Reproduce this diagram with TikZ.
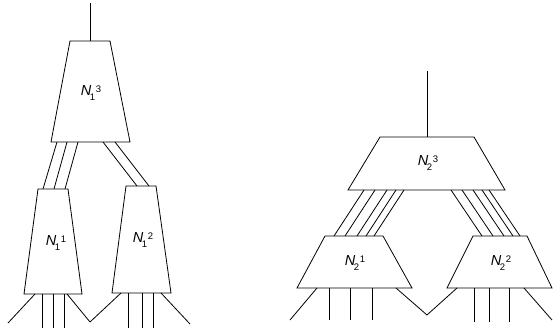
\documentclass[tikz,border=0pt]{standalone}
\usepackage{fontspec}
\setmainfont{Liberation Sans}
\newcommand\nlab[2]{{\fontsize{14.5}{15}\selectfont\itshape N}\kern-1.6pt\raisebox{-4.5pt}{\fontsize{9.5}{10}\selectfont #1}\kern0.8pt\raisebox{3.8pt}{\fontsize{9.5}{10}\selectfont #2}}
\tikzset{
  wire/.style={draw=black, line width=0.8pt},
  box/.style={draw=black, line width=0.8pt, fill=white, line join=miter},
  lab/.style={inner sep=0pt, anchor=center}
}
\begin{document}
\begin{tikzpicture}[x=1pt,y=-1pt]
\useasboundingbox (0,0) rectangle (553,328);
% ---------- left diagram ----------
% N1^3
\coordinate (a3tl) at (70,41); \coordinate (a3tr) at (110,41);
\coordinate (a3br) at (130,142); \coordinate (a3bl) at (51,142);
\draw[box] (a3tl) -- (a3tr) -- (a3br) -- (a3bl) -- cycle;
\node[lab] (La3) at (91,93) {\nlab{1}{3}};
\coordinate (a3top) at (90,41); \coordinate (a3out) at (90,3);
\draw[wire] (a3top) -- (a3out);
% N1^1
\coordinate (a1tl) at (38,189); \coordinate (a1tr) at (68,189);
\coordinate (a1br) at (82,294); \coordinate (a1bl) at (24,294);
\draw[box] (a1tl) -- (a1tr) -- (a1br) -- (a1bl) -- cycle;
\node[lab] (La1) at (56,243) {\nlab{1}{1}};
% N1^2
\coordinate (a2tl) at (126,186); \coordinate (a2tr) at (156,186);
\coordinate (a2br) at (171,293); \coordinate (a2bl) at (112,293);
\draw[box] (a2tl) -- (a2tr) -- (a2br) -- (a2bl) -- cycle;
\node[lab] (La2) at (143,240) {\nlab{1}{2}};
% connectors N1^3 -> N1^1
\foreach \i/\xa/\xb in {1/57/43, 2/67/54, 3/78/65}{
  \coordinate (ua\i) at (\xa,142); \coordinate (da\i) at (\xb,189);
  \draw[wire] (ua\i) -- (da\i);
}
% connectors N1^3 -> N1^2
\foreach \i/\xa/\xb in {1/103/137, 2/115/149}{
  \coordinate (ub\i) at (\xa,142); \coordinate (db\i) at (\xb,186);
  \draw[wire] (ub\i) -- (db\i);
}
% inputs under N1^1
\coordinate (a1d1) at (35,294); \coordinate (a1e1) at (8,323);
\draw[wire] (a1d1) -- (a1e1);
\foreach \i/\x in {1/42, 2/53, 3/64}{
  \coordinate (a1v\i) at (\x,294); \coordinate (a1w\i) at (\x,328);
  \draw[wire] (a1v\i) -- (a1w\i);
}
\coordinate (a1d2) at (67,294); \coordinate (amid) at (90,322);
\draw[wire] (a1d2) -- (amid);
% inputs under N1^2
\coordinate (a2d1) at (121,293);
\draw[wire] (a2d1) -- (amid);
\foreach \i/\x in {1/128, 2/142, 3/153}{
  \coordinate (a2v\i) at (\x,293); \coordinate (a2w\i) at (\x,328);
  \draw[wire] (a2v\i) -- (a2w\i);
}
\coordinate (a2d2) at (161,293); \coordinate (a2e2) at (190,324);
\draw[wire] (a2d2) -- (a2e2);
% ---------- right diagram ----------
% N2^3
\coordinate (b3tl) at (380,137); \coordinate (b3tr) at (474,137);
\coordinate (b3br) at (505,190); \coordinate (b3bl) at (348,190);
\draw[box] (b3tl) -- (b3tr) -- (b3br) -- (b3bl) -- cycle;
\node[lab] (Lb3) at (428,163) {\nlab{2}{3}};
\coordinate (b3top) at (427,137); \coordinate (b3out) at (427,71);
\draw[wire] (b3top) -- (b3out);
% N2^1
\coordinate (b1tl) at (325,236); \coordinate (b1tr) at (383,236);
\coordinate (b1br) at (412,288); \coordinate (b1bl) at (297,288);
\draw[box] (b1tl) -- (b1tr) -- (b1br) -- (b1bl) -- cycle;
\node[lab] (Lb1) at (355,263) {\nlab{2}{1}};
% N2^2
\coordinate (b2tl) at (473,236); \coordinate (b2tr) at (527,236);
\coordinate (b2br) at (552,288); \coordinate (b2bl) at (447,288);
\draw[box] (b2tl) -- (b2tr) -- (b2br) -- (b2bl) -- cycle;
\node[lab] (Lb2) at (501,263) {\nlab{2}{2}};
% connectors N2^3 -> N2^1
\foreach \i/\xa/\xb in {1/364/334, 2/375/345, 3/387/357, 4/396/366, 5/404/374}{
  \coordinate (uc\i) at (\xa,190); \coordinate (dc\i) at (\xb,236);
  \draw[wire] (uc\i) -- (dc\i);
}
% connectors N2^3 -> N2^2
\foreach \i/\xa/\xb in {1/451/482, 2/462/493, 3/473/504, 4/482/513, 5/489/520}{
  \coordinate (ud\i) at (\xa,190); \coordinate (dd\i) at (\xb,236);
  \draw[wire] (ud\i) -- (dd\i);
}
% inputs under N2^1
\coordinate (b1d1) at (317,288); \coordinate (b1e1) at (290,320);
\draw[wire] (b1d1) -- (b1e1);
\foreach \i/\x in {1/329, 2/350, 3/372}{
  \coordinate (b1v\i) at (\x,288); \coordinate (b1w\i) at (\x,320);
  \draw[wire] (b1v\i) -- (b1w\i);
}
\coordinate (b1d2) at (396,288); \coordinate (bmid) at (427,315);
\draw[wire] (b1d2) -- (bmid);
% inputs under N2^2
\coordinate (b2d1) at (457,288);
\draw[wire] (b2d1) -- (bmid);
\foreach \i/\x in {1/474, 2/489, 3/509}{
  \coordinate (b2v\i) at (\x,288); \coordinate (b2w\i) at (\x,322);
  \draw[wire] (b2v\i) -- (b2w\i);
}
\coordinate (b2d2) at (524,288); \coordinate (b2e2) at (552,320);
\draw[wire] (b2d2) -- (b2e2);
\end{tikzpicture}
\end{document}
